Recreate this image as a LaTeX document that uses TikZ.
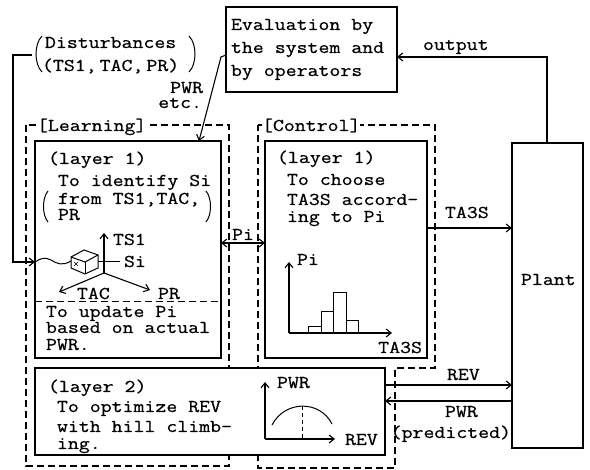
\documentclass[tikz,border=0pt]{standalone}
\usepackage{fontspec}
\newfontfamily\tw[FakeStretch=1.18,FakeBold=0.6]{Latin Modern Mono}
\usetikzlibrary{arrows.meta}
\begin{document}
\begin{tikzpicture}[x=1pt,y=-1pt,
  every node/.style={inner sep=0pt, outer sep=0pt},
  txt/.style={anchor=base west, font=\tw\fontsize{18}{22}\selectfont},
  txtr/.style={anchor=base east, font=\tw\fontsize{18}{22}\selectfont},
  txtc/.style={anchor=base, font=\tw\fontsize{18}{22}\selectfont},
  box/.style={draw, line width=1.3pt, anchor=north west, fill=white},
  grp/.style={line width=1.1pt, dash pattern=on 7pt off 4pt},
  arr/.style={line width=1.1pt, -{Straight Barb[length=5pt,width=8pt]}},
  arrb/.style={line width=1.1pt, {Straight Barb[length=5pt,width=8pt]}-{Straight Barb[length=5pt,width=8pt]}},
  thin/.style={line width=1pt},
  grplabel/.style={txt, fill=white}
]
\useasboundingbox (0,0) rectangle (590,470);
\fill[white] (0,0) rectangle (590,470);

% dashed groups
\draw[grp] (26,125) rectangle (229,466);
\draw[grp] (258,125) -- (435,125) -- (435,368) -- (395,368) -- (395,468) -- (258,468) -- cycle;

% boxes
\node[box, minimum width=171pt, minimum height=85pt] (eval) at (226,7) {};
\node[box, minimum width=186pt, minimum height=217pt] (lrn1) at (35,141) {};
\node[box, minimum width=162pt, minimum height=217pt] (ctl1) at (265,141) {};
\node[box, minimum width=350pt, minimum height=87pt] (lay2) at (35,368) {};
\node[box, minimum width=71pt, minimum height=305pt] (plant) at (512,143) {};

% group labels
\node[grplabel] (lrnlab) at (37,131) {[Learning]};
\node[grplabel] (ctllab) at (262,131) {[Control]};

% evaluation text
\node[txt] (ev1) at (231,30) {Evaluation by};
\node[txt] (ev2) at (231,53) {the system and};
\node[txt] (ev3) at (231,76) {by operators};

% disturbances
\node[txt] (dist1) at (45,48) {Disturbances};
\node[txt] (dist2) at (42,71) {(TS1,\hspace{3pt}TAC,\hspace{3pt}PR)};
\draw[thin] (42,36) .. controls (34,44) and (34,64) .. (42,72);
\draw[thin] (189,36) .. controls (197,44) and (197,64) .. (189,72);
\coordinate (distIn) at (32,55);

% PWR etc.
\node[txtr] (pwretc1) at (203,93) {PWR};
\node[txtr] (pwretc2) at (202,108) {etc.};

% learning layer 1 text
\node[txt] (l1a) at (48,164) {(layer 1)};
\node[txt] (l1b) at (58,186) {To identify Si};
\node[txt] (l1c) at (58,204) {from TS1,TAC,};
\node[txt] (l1d) at (58,220) {PR};
\draw[thin] (48,191) .. controls (42,198) and (42,215) .. (48,222);
\draw[thin] (206,191) .. controls (212,198) and (212,215) .. (206,222);

% cube and axes
\draw[thin] (71,257) -- (84,250) -- (98,255) -- (98,268) -- (85,274) -- (71,268) -- cycle;
\draw[thin] (71,257) -- (85,262) -- (98,255);
\draw[thin] (85,262) -- (85,274);
\draw[line width=0.7pt] (74,262) -- (78,266) (78,262) -- (74,266);
\draw[thin] (lrn1.west |- 0,262) .. controls (41,258) and (45,257) .. (51,260)
  .. controls (57,264) and (63,266) .. (71,261);
\draw[thin] (98,262) -- (120,262);
\draw[arr] (104,273) -- (104,233);
\draw[arr] (104,273) -- (59,292);
\draw[arr] (104,273) -- (150,290);
\node[txt] (ts1) at (113,245) {TS1};
\node[txt] (si) at (124,267) {Si};
\node[txt] (tac) at (77,299) {TAC};
\node[txt] (pr) at (158,299) {PR};
\draw[grp, line width=1pt] (lrn1.west |- 0,302) -- (lrn1.east |- 0,302);
\node[txt] (up1) at (46,317) {To update Pi};
\node[txt] (up2) at (46,333) {based on actual};
\node[txt] (up3) at (46,350) {PWR.};

% control layer 1
\node[txt] (c1a) at (277,163) {(layer 1)};
\node[txt] (c1b) at (287,185) {To choose};
\node[txt] (c1c) at (287,205) {TA3S accord-};
\node[txt] (c1d) at (287,222) {ing to Pi};
\draw[arr] (289,333) -- (289,262);
\draw[arr] (289,333) -- (392,333);
\draw[thin] (308,333) rectangle (321,327);
\draw[thin] (321,333) rectangle (333,312);
\draw[thin] (333,333) rectangle (346,293);
\draw[thin] (346,333) rectangle (358,321);
\node[txt] (hpi) at (297,265) {Pi};
\node[txtr] (hta) at (422,353) {TA3S};

% layer 2
\node[txt] (l2a) at (48,392) {(layer 2)};
\node[txt] (l2b) at (57,412) {To optimize REV};
\node[txt] (l2c) at (57,432) {with hill climb-};
\node[txt] (l2d) at (57,449) {ing.};
\draw[arr] (265,439) -- (265,382);
\draw[arr] (265,439) -- (335,439);
\draw[thin] (272,425) .. controls (285,400) and (320,400) .. (332,424);
\draw[thin, dash pattern=on 4pt off 3pt] (302,406) -- (302,439);
\node[txt] (ppwr) at (277,388) {PWR};
\node[txt] (prev) at (345,445) {REV};

% plant
\node[txt] (plantlab) at (521,285) {Plant};

% connectors
\draw[arr] (plant.north -| 547,0) |- (eval.east |- 0,57);
\node[txt] (outlab) at (423,50) {output};
\draw[arr] (eval.west |- 0,55) -- (221,57) -- (lrn1.north -| 199,0);
\draw[arr] (distIn) -- (13,55) -- (13,262) -- (lrn1.west |- 0,262);
\draw[arrb] (lrn1.east |- 0,243) -- (ctl1.west |- 0,243);
\node[txtc] (pilab) at (243,240) {Pi};
\draw[arr] (ctl1.east |- 0,228) -- (plant.west |- 0,228);
\node[txt] (talab) at (445,218) {TA3S};
\draw[arr] (lay2.east |- 0,385) -- (plant.west |- 0,385);
\node[txt] (revlab) at (447,380) {REV};
\draw[arr] (plant.west |- 0,401) -- (lay2.east |- 0,401);
\node[txt] (pwrlab) at (445,417) {PWR};
\node[txtr] (predlab) at (511,438) {(predicted)};
\end{tikzpicture}
\end{document}
